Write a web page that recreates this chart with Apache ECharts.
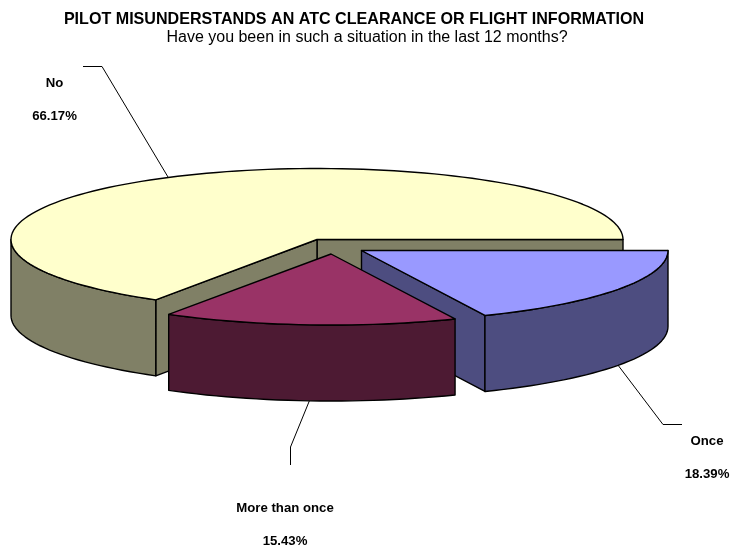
<!DOCTYPE html>
<html>
<head>
<meta charset="utf-8">
<style>html,body{margin:0;padding:0;background:#fff}#c{width:730px;height:551px}</style>
<script src="https://cdn.jsdelivr.net/npm/echarts@6/dist/echarts.min.js"></script>
</head>
<body>
<div id="c"></div>
<script>
// Data
const categories = ['No', 'Once', 'More than once'];
const values = [66.17, 18.39, 15.43];

// Text
const titleText = 'PILOT MISUNDERSTANDS AN ATC CLEARANCE OR FLIGHT INFORMATION';
const subtitleText = 'Have you been in such a situation in the last 12 months?';

// Layout and styles (per slice, in category order)
const firstSliceStart = 121.8; // degrees, clockwise from 3 o'clock
const depth = 76;
const ry = 71;
const centers = [[317, 239.5], [361.5, 250.5], [331, 254]];
const radiiX = [306, 306.5, 308];
const topColors = ['#FFFFCC', '#9999FF', '#993366'];
const sideColors = ['#808066', '#4D4D80', '#4D1A33'];
const elbows = [[[102, 66.5], [83, 66.5]], [[663, 424.5], [682, 424.5]], [[290.5, 447], [290.5, 465]]];
const labelPos = [[54.5, 83, 116], [707, 441, 474], [285, 508, 541]];

const total = values.reduce((a, b) => a + b, 0);
const startAngles = [];
values.reduce((acc, v, i) => { startAngles[i] = acc; return acc + v / total * 360; }, firstSliceStart);

const line = { stroke: '#000', lineWidth: 1.4, lineJoin: 'round' };

function arc(i, from, to, dy) {
  const [cx, cy] = centers[i], rx = radiiX[i], pts = [];
  const n = Math.max(2, Math.ceil(Math.abs(to - from) / 2));
  for (let k = 0; k <= n; k++) {
    const t = (from + (to - from) * k / n) * Math.PI / 180;
    pts.push([cx + rx * Math.cos(t), cy + ry * Math.sin(t) + dy]);
  }
  return pts;
}
function poly(points, fill) {
  return { type: 'polygon', shape: { points }, style: Object.assign({ fill }, line) };
}

function renderItem(params, api) {
  const i = params.dataIndex;
  const a0 = startAngles[i], a1 = a0 + api.value(0) / total * 360;
  const [cx, cy] = centers[i];
  const apex = [cx, cy];
  const apexLow = [cx, cy + depth];
  const side = sideColors[i];
  const children = [];

  // Radial walls that face the viewer
  const corner = (deg, dy) => arc(i, deg, deg, dy)[0];
  if (i === 0) {
    children.push(poly([apex, corner(a1, 0), corner(a1, depth), apexLow], side));
    children.push(poly([apex, corner(a0, 0), corner(a0, depth), apexLow], side));
  } else if (i === 1) {
    children.push(poly([apex, corner(a1, 0), corner(a1, depth), apexLow], side));
  }

  // Outer rim: only the part in the front half of the ellipse
  const normA0 = ((a0 % 360) + 360) % 360;
  const rimFrom = normA0 < 180 ? normA0 : 0;
  const rimTo = normA0 < 180 ? Math.min(normA0 + (a1 - a0), 180) : Math.min((a1 % 360), 180);
  const rimTop = arc(i, rimFrom, rimTo, 0);
  const rimLow = arc(i, rimTo, rimFrom, depth);
  children.push(poly(rimTop.concat(rimLow), side));

  // Top face
  children.push(poly([apex].concat(arc(i, a0, a1, 0)), topColors[i]));

  // Leader from the slice's middle angle, then its label
  const mid = (a0 + a1) / 2;
  const midNorm = ((mid % 360) + 360) % 360;
  const anchor = corner(mid, midNorm < 180 ? depth : 0);
  children.push({
    type: 'polyline',
    shape: { points: [anchor].concat(elbows[i]) },
    style: { stroke: '#000', lineWidth: 1, fill: null },
    z2: -1
  });
  const [lx, ly1, ly2] = labelPos[i];
  const textStyle = { fontFamily: '"Liberation Sans", Arial, sans-serif', fontWeight: 'bold', fontSize: 13.2, fill: '#000', align: 'center', verticalAlign: 'middle' };
  children.push({ type: 'text', x: lx, y: ly1, style: Object.assign({ text: categories[i] }, textStyle) });
  children.push({ type: 'text', x: lx, y: ly2, style: Object.assign({ text: api.value(0).toFixed(2) + '%' }, textStyle) });

  return { type: 'group', children };
}

const chart = echarts.init(document.getElementById('c'), null, { renderer: 'canvas' });
chart.setOption({
  animation: false,
  backgroundColor: '#fff',
  title: [{
    text: titleText,
    left: 349,
    top: 6,
    textAlign: 'center',
    textStyle: { fontFamily: '"Liberation Sans", Arial, sans-serif', fontWeight: 'bold', fontSize: 16.1, color: '#000', lineHeight: 17 }
  }, {
    text: subtitleText,
    left: 362,
    top: 24,
    textAlign: 'center',
    textStyle: { fontFamily: '"Liberation Sans", Arial, sans-serif', fontWeight: 'normal', fontSize: 16, color: '#000', lineHeight: 17 }
  }],
  series: [{
    type: 'custom',
    coordinateSystem: 'none',
    renderItem,
    data: categories.map((name, i) => ({ name, value: [values[i]] }))
  }]
});
</script>
</body>
</html>
